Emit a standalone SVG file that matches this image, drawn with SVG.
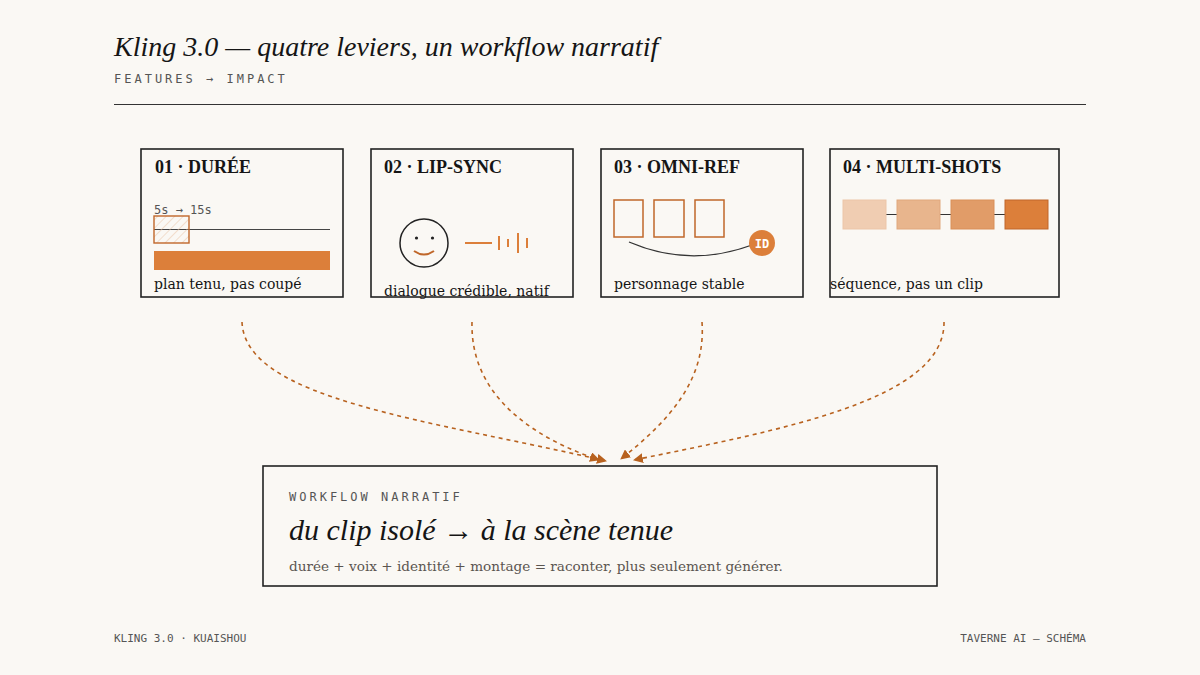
<svg xmlns="http://www.w3.org/2000/svg" width="1200" height="675" viewBox="0 0 1200 675">
<defs>
<style>
.mono{font-family:"DejaVu Sans Mono","Liberation Mono",monospace;}
.ser{font-family:"Liberation Serif","DejaVu Serif",serif;}
.card{fill:none;stroke:#222;stroke-width:1.6;}
.h{font-family:"Liberation Serif",serif;font-weight:bold;font-size:18px;fill:#151515;}
.cap{font-family:"DejaVu Serif",serif;font-size:14px;fill:#151515;}
.conn{fill:none;stroke:#b8621f;stroke-width:1.6;stroke-dasharray:4 4;}
</style>
<marker id="ah" viewBox="0 0 10 10" refX="9" refY="5" markerWidth="10" markerHeight="10" markerUnits="userSpaceOnUse" orient="auto"><path d="M0,0 L10,5 L0,10 Z" fill="#b8621f"/></marker>
<pattern id="hatch" width="6" height="6" patternUnits="userSpaceOnUse" patternTransform="rotate(45)"><line x1="0" y1="0" x2="0" y2="6" stroke="#e9c3a6" stroke-width="1"/></pattern>
</defs>
<rect width="1200" height="675" fill="#faf8f4"/>
<g id="title">
<text x="114" y="56" class="ser" font-style="italic" font-size="28" fill="#151515">Kling 3.0 — quatre leviers, un workflow narratif</text>
<text x="114" y="83" class="mono" font-size="12" letter-spacing="3" fill="#555">FEATURES → IMPACT</text>
<line x1="114" y1="104.500" x2="1086" y2="104.500" stroke="#333" stroke-width="1"/>
</g>
<g id="card1">
<rect x="141" y="149" width="202" height="148" class="card"/>
<text x="155" y="173" class="h">01 · DURÉE</text>
<text x="154" y="214" class="mono" font-size="12" fill="#555">5s → 15s</text>
<line x1="154" y1="229.500" x2="330" y2="229.500" stroke="#444" stroke-width="1"/>
<rect x="154" y="216" width="35" height="27" fill="url(#hatch)" stroke="#c0672a" stroke-width="1.4"/>
<rect x="154" y="251" width="176" height="19" fill="#dc7f3a"/>
<text x="154" y="289" class="cap">plan tenu, pas coupé</text>
</g>
<g id="card2">
<rect x="371" y="149" width="202" height="148" class="card"/>
<text x="384" y="173" class="h">02 · LIP-SYNC</text>
<circle cx="424" cy="243" r="24" fill="none" stroke="#222" stroke-width="1.5"/>
<circle cx="416.500" cy="238" r="1.6" fill="#222"/><circle cx="432.500" cy="238" r="1.6" fill="#222"/>
<path d="M414,251 Q424,258 434,251" fill="none" stroke="#c0672a" stroke-width="2"/>
<g stroke="#dc7f3a" stroke-width="2"><line x1="465" y1="243" x2="492" y2="243"/><line x1="499" y1="236" x2="499" y2="250"/><line x1="508" y1="239" x2="508" y2="247"/><line x1="518" y1="233" x2="518" y2="253"/><line x1="527" y1="238" x2="527" y2="248"/></g>
<text x="384" y="296" class="cap">dialogue crédible, natif</text>
</g>
<g id="card3">
<rect x="601" y="149" width="202" height="148" class="card"/>
<text x="614" y="173" class="h">03 · OMNI-REF</text>
<g fill="none" stroke="#c0672a" stroke-width="1.5"><rect x="614" y="200" width="29" height="37"/><rect x="654" y="200" width="30" height="37"/><rect x="695" y="200" width="29" height="37"/></g>
<path d="M629,242 Q690,268 752,245" fill="none" stroke="#333" stroke-width="1.3"/>
<circle cx="762" cy="243" r="13" fill="#dc7f3a"/>
<text x="762" y="247.500" class="mono" font-size="12" font-weight="bold" fill="#fff" text-anchor="middle">ID</text>
<text x="614" y="289" class="cap">personnage stable</text>
</g>
<g id="card4">
<rect x="830" y="149" width="229" height="148" class="card"/>
<text x="843" y="173" class="h">04 · MULTI-SHOTS</text>
<g stroke="#333" stroke-width="1"><line x1="886" y1="214.500" x2="897" y2="214.500"/><line x1="940" y1="214.500" x2="951" y2="214.500"/><line x1="994" y1="214.500" x2="1005" y2="214.500"/></g>
<rect x="843" y="200" width="43" height="29" fill="#f0cdb2" stroke="#ecc5a8"/>
<rect x="897" y="200" width="43" height="29" fill="#e8b58d" stroke="#e0a77c"/>
<rect x="951" y="200" width="43" height="29" fill="#e19c68" stroke="#d98f58"/>
<rect x="1005" y="200" width="43" height="29" fill="#dc7f3a" stroke="#c0672a"/>
<text x="830" y="289" class="cap">séquence, pas un clip</text>
</g>
<g id="connectors">
<path d="M242,322 C245,400 430,420 606,461" class="conn" marker-end="url(#ah)"/>
<path d="M472,322 C470,400 540,440 599,460" class="conn" marker-end="url(#ah)"/>
<path d="M702,322 C706,380 670,420 621,459" class="conn" marker-end="url(#ah)"/>
<path d="M944,322 C945,400 780,430 634,460" class="conn" marker-end="url(#ah)"/>
</g>
<g id="result">
<rect x="263" y="466" width="674" height="120" fill="#faf8f4" stroke="#222" stroke-width="1.6"/>
<text x="289" y="501" class="mono" font-size="12" letter-spacing="3" fill="#555">WORKFLOW NARRATIF</text>
<text x="289" y="540" class="ser" font-style="italic" font-size="30" fill="#151515">du clip isolé → à la scène tenue</text>
<text x="289" y="571" class="cap" style="fill:#5a5550;font-size:13.6px">durée + voix + identité + montage = raconter, plus seulement générer.</text>
</g>
<g id="footer">
<text x="114" y="642" class="mono" font-size="11" fill="#555">KLING 3.0 · KUAISHOU</text>
<text x="1086" y="642" class="mono" font-size="11" fill="#555" text-anchor="end">TAVERNE AI — SCHÉMA</text>
</g>
</svg>
